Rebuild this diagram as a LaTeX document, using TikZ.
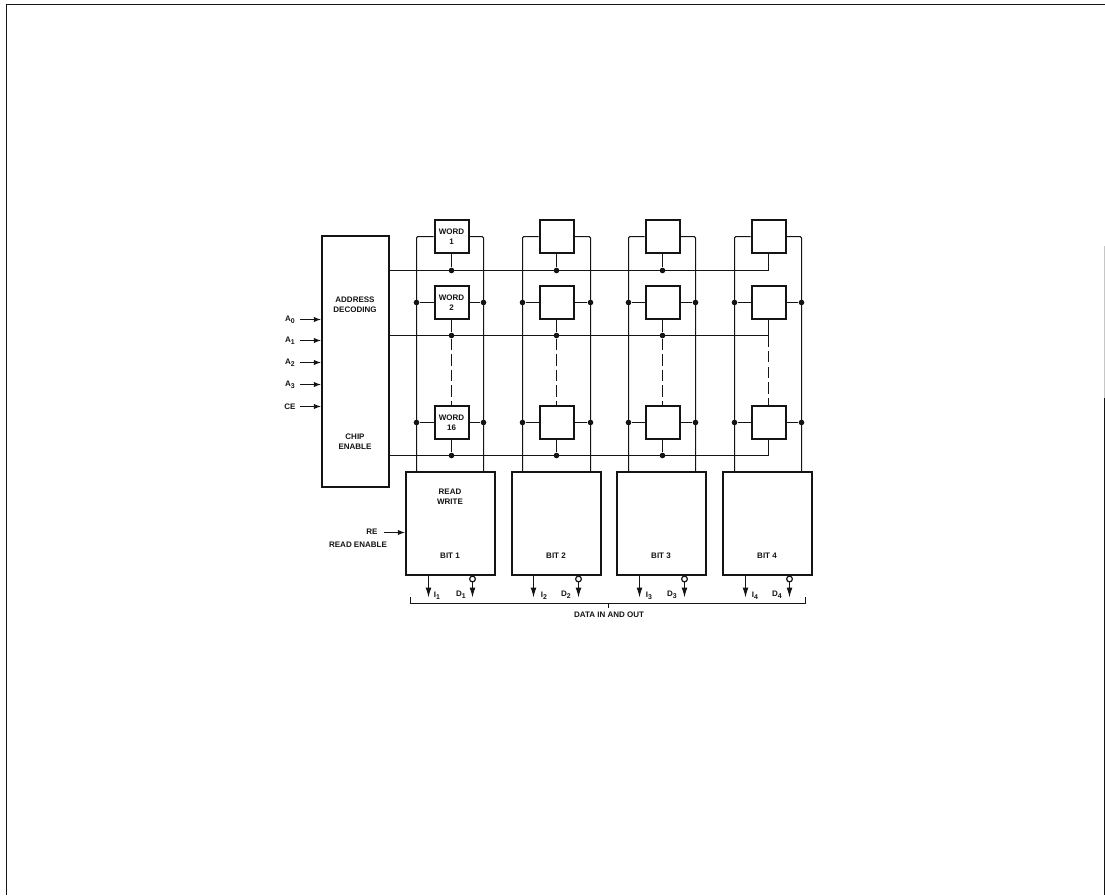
\documentclass[tikz,border=0pt]{standalone}
\usepackage{fontspec}
\setmainfont{Liberation Sans}
\usetikzlibrary{arrows.meta,calc}
\definecolor{ink}{HTML}{141414}
\newcommand{\lowidx}[1]{\raisebox{-1.6pt}{\fontsize{5.2}{5.2}\selectfont #1}}
\tikzset{
  thinline/.style={draw=ink,line width=0.75pt},
  framel/.style={draw=ink,line width=1.2pt},
  boxed/.style={draw=ink,line width=1.5pt,inner sep=0pt,anchor=center},
  wordbox/.style={boxed,minimum width=25.5pt,minimum height=24.75pt,align=center,text=ink,font=\bfseries\fontsize{6}{7.5}\selectfont},
  bitbox/.style={boxed,minimum width=66.75pt,minimum height=77.25pt},
  lab/.style={text=ink,font=\bfseries\fontsize{6}{7.8}\selectfont,inner sep=0pt,align=center},
  dot/.style={circle,fill=ink,draw=none,minimum size=4.2pt,inner sep=0pt},
  inv/.style={circle,draw=ink,fill=white,line width=0.9pt,minimum size=4.3pt,inner sep=0pt},
  inarrow/.style={thinline,-{Latex[length=5.4pt,width=4pt]}},
  outarrow/.style={thinline,-{Latex[length=7.5pt,width=4.4pt]}},
  dashv/.style={thinline,dash pattern=on 8.5pt off 3.2pt}
}
\begin{document}
\begin{tikzpicture}[x=0.75pt,y=-0.75pt]
\useasboundingbox (0,0) rectangle (1105,895);
\fill[white] (0,0) rectangle (1105,895);
% page frame
\coordinate (fa) at (6.5,895);
\coordinate (fb) at (1105,4.5);
\draw[framel] (fa) |- (fb);
\coordinate (ra) at (1104.4,246);
\coordinate (rb) at (1104.4,398);
\coordinate (rc) at (1104.4,895);
\draw[draw=gray!45,line width=0.9pt] (ra) -- (rb);
\draw[draw=ink,line width=0.9pt] (rb) -- (rc);
% address box
\node[boxed,minimum width=50.25pt,minimum height=188.25pt] (addr) at (355.5,361.5) {};
\node[lab] (t1) at (355,305) {ADDRESS\\DECODING};
\node[lab] (t2) at (355,441.5) {CHIP\\ENABLE};
% row reference levels
\coordinate (R1) at (0,270.5);
\coordinate (R2) at (0,335.5);
\coordinate (R3) at (0,455.5);
% columns: index / centre / left bus / right bus / bit box centre
\foreach \c/\cx/\lx/\rx/\bx in {1/451.5/416.5/483.5/450.5,2/556.5/522.5/590.5/556,3/662.5/628.5/695.5/661.5,4/768.5/734.5/801.5/767.5}{
  \node[bitbox] (bit\c) at (\bx,523.5) {};
  \coordinate (L\c) at (\lx,472);
  \coordinate (S\c) at (\rx,472);
  \node[wordbox] (wa\c) at (\cx,236.5) {\ifnum\c=1 WORD\\1\fi};
  \node[wordbox] (wb\c) at (\cx,302.5) {\ifnum\c=1 WORD\\2\fi};
  \node[wordbox] (wc\c) at (\cx,422.5) {\ifnum\c=1 WORD\\16\fi};
  % bit lines
  \draw[thinline,rounded corners=1pt] (wa\c.west) -| (L\c);
  \draw[thinline,rounded corners=1pt] (wa\c.east) -| (S\c);
  \node[dot] (dl\c b) at (\lx,302.5) {};
  \node[dot] (dr\c b) at (\rx,302.5) {};
  \node[dot] (dl\c c) at (\lx,422.5) {};
  \node[dot] (dr\c c) at (\rx,422.5) {};
  \draw[thinline] (wb\c.west) -- (dl\c b);
  \draw[thinline] (wb\c.east) -- (dr\c b);
  \draw[thinline] (wc\c.west) -- (dl\c c);
  \draw[thinline] (wc\c.east) -- (dr\c c);
}
% word lines ending at column 4
\draw[thinline] (addr.east |- R1) -| (wa4.south);
\draw[thinline] (addr.east |- R2) -| (wb4.south);
\draw[thinline] (addr.east |- R3) -| (wc4.south);
\coordinate (c4b) at (wb4.south |- R2);
\draw[dashv] (c4b) -- (wc4.north);
% word line dots (columns 1-3)
\foreach \c/\cx in {1/451.5,2/556.5,3/662.5}{
  \node[dot] (ra\c) at (\cx,270.5) {};
  \node[dot] (rb\c) at (\cx,335.5) {};
  \node[dot] (rc\c) at (\cx,455.5) {};
  \draw[thinline] (wa\c.south) -- (ra\c);
  \draw[thinline] (wb\c.south) -- (rb\c);
  \draw[thinline] (wc\c.south) -- (rc\c);
  \draw[dashv] (rb\c) -- (wc\c.north);
}
% bit texts
\node[lab] (rw) at (450,496.5) {READ\\WRITE};
\node[lab] (b1) at (450,556) {BIT 1};
\node[lab] (b2) at (556,556) {BIT 2};
\node[lab] (b3) at (661,556) {BIT 3};
\node[lab] (b4) at (767,556) {BIT 4};
% address inputs
\foreach \n/\y/\t in {a0/319.5/A\lowidx{0},a1/340.5/A\lowidx{1},a2/362.5/A\lowidx{2},a3/384.5/A\lowidx{3},ce/406.5/CE}{
  \node[lab] (l\n) at (290,\y) {\t};
  \coordinate (s\n) at (300,\y);
  \draw[inarrow] (s\n) -- (addr.west |- s\n);
}
% read enable
\node[lab] (lre) at (372,532) {RE};
\node[lab] (lren) at (358,545) {READ ENABLE};
\coordinate (sre) at (384,532.5);
\draw[inarrow] (sre) -- (bit1.west |- sre);
% outputs
\coordinate (oy) at (0,597.5);
\foreach \c/\ix/\dx/\ilx/\dlx in {1/428.5/472.5/437/461,2/533.5/578.5/544/566,3/639.5/684.5/649/672,4/745.5/789.5/755/777}{
  \coordinate (ia\c) at (\ix,575);
  \draw[outarrow] (ia\c) -- (ia\c |- oy);
  \node[inv] (inv\c) at (\dx,579) {};
  \draw[outarrow] (inv\c.south) -- (inv\c |- oy);
  \node[lab] (li\c) at (\ilx,595.5) {I\lowidx{\c}};
  \node[lab] (ld\c) at (\dlx,594.5) {D\lowidx{\c}};
}
% data bracket
\coordinate (ba) at (410.5,597);
\coordinate (bb) at (805.5,597);
\coordinate (bl) at (0,603.5);
\draw[thinline] (ba) |- (bl -| bb) -- (bb);
\coordinate (bm) at (608.5,603.5);
\coordinate (bn) at (608.5,608);
\draw[thinline] (bm) -- (bn);
\node[lab] (dio) at (609,615) {DATA IN AND OUT};
\end{tikzpicture}
\end{document}
